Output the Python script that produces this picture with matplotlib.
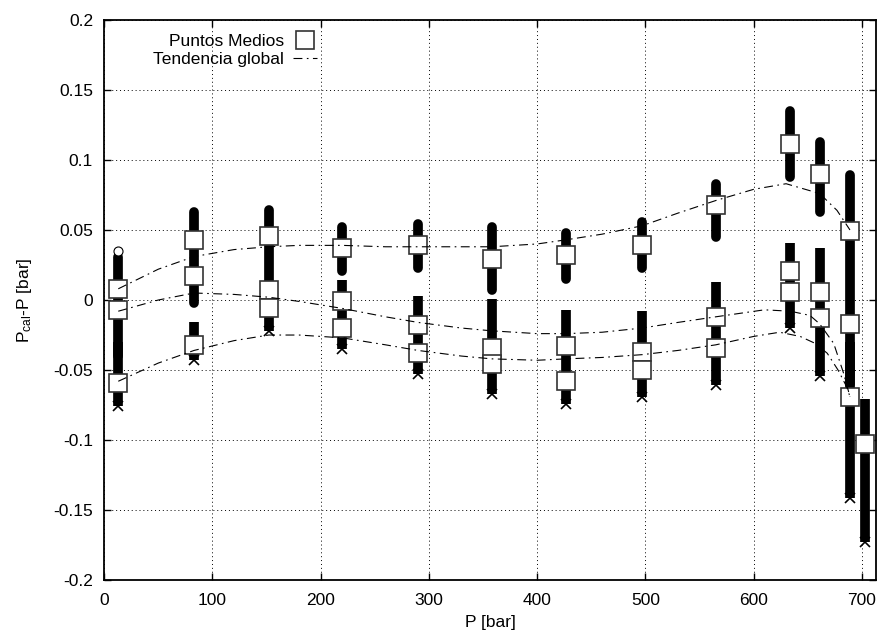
import matplotlib
matplotlib.use('Agg')
import matplotlib.pyplot as plt
from matplotlib.ticker import FuncFormatter

plt.rcParams['font.family'] = ['Liberation Sans', 'DejaVu Sans']
plt.rcParams['axes.unicode_minus'] = False
plt.rcParams['mathtext.fontset'] = 'custom'
plt.rcParams['mathtext.rm'] = 'Liberation Sans'
plt.rcParams['mathtext.it'] = 'Liberation Sans'

# presiones de cada columna de medidas
presion = [13, 83, 152, 220, 290, 358, 427, 497, 565, 634, 661, 689, 703]

# pilas de circulos (arriba / abajo)
circ_x = [13, 83, 152, 220, 290, 358, 427, 497, 565, 634, 661, 689]
circ_top = [0.031, 0.063, 0.064, 0.052, 0.054, 0.052, 0.048, 0.056, 0.083, 0.135, 0.113, 0.089]
circ_bot = [-0.040, -0.002, -0.004, 0.021, 0.023, 0.007, 0.015, 0.023, 0.045, 0.088, 0.063, -0.060]

# pilas de cruces (arriba / abajo)
cruz_x = [13, 83, 152, 220, 290, 358, 427, 497, 565, 634, 661, 689, 703]
cruz_top = [-0.030, -0.016, 0.000, 0.014, 0.003, 0.001, -0.007, -0.008, 0.013, 0.041, 0.037, -0.030, -0.071]
cruz_bot = [-0.076, -0.043, -0.022, -0.035, -0.053, -0.067, -0.074, -0.069, -0.061, -0.020, -0.054, -0.141, -0.173]

# puntos sueltos
suelto_x = [13]
suelto_y = [0.035]

# puntos medios
medio_x = [13, 13, 13, 83, 83, 83, 152, 152, 152, 220, 220, 220, 290, 290, 290,
           358, 358, 358, 427, 427, 427, 497, 497, 497, 565, 565, 565,
           634, 634, 634, 661, 661, 661, 689, 689, 689, 703]
medio_y = [0.008, -0.007, -0.059, 0.043, 0.017, -0.032, 0.046, 0.007, -0.006,
           0.037, -0.001, -0.020, 0.039, -0.018, -0.038, 0.029, -0.034, -0.046,
           0.032, -0.033, -0.058, 0.039, -0.037, -0.050, 0.068, -0.012, -0.034,
           0.111, 0.021, 0.006, 0.090, 0.006, -0.013, 0.049, -0.017, -0.069, -0.103]

# tendencias globales
t1_x = [13, 50, 83, 120, 152, 180, 220, 260, 290, 330, 358, 400, 427, 460, 497,
        530, 565, 600, 630, 661, 677, 689]
t1_y = [0.008, 0.022, 0.031, 0.036, 0.038, 0.039, 0.039, 0.038, 0.038, 0.038,
        0.038, 0.040, 0.043, 0.047, 0.053, 0.062, 0.071, 0.079, 0.083, 0.076,
        0.064, 0.050]
t2_x = [13, 50, 83, 120, 152, 180, 220, 260, 290, 330, 358, 400, 427, 460, 497,
        530, 565, 610, 634, 652, 661, 674, 683, 689]
t2_y = [-0.008, 0.000, 0.005, 0.004, 0.002, -0.001, -0.006, -0.012, -0.016,
        -0.020, -0.022, -0.024, -0.024, -0.023, -0.020, -0.016, -0.012, -0.007,
        -0.008, -0.011, -0.017, -0.031, -0.052, -0.069]
t3_x = [13, 50, 83, 120, 152, 180, 220, 260, 290, 330, 358, 400, 427, 460, 497,
        530, 565, 600, 624, 643, 657, 668, 678, 686, 689]
t3_y = [-0.058, -0.045, -0.036, -0.029, -0.025, -0.025, -0.027, -0.032, -0.036,
        -0.040, -0.042, -0.043, -0.042, -0.041, -0.039, -0.036, -0.032, -0.026,
        -0.023, -0.026, -0.031, -0.038, -0.050, -0.062, -0.069]

yticks = [0.2, 0.15, 0.1, 0.05, 0, -0.05, -0.1, -0.15, -0.2]
xticks = [0, 100, 200, 300, 400, 500, 600, 700]

fs = 12.5

fig = plt.figure(figsize=(8.83, 6.39), dpi=100)
ax = fig.add_axes([0.118, 0.092, 0.874, 0.877])

ax.set_xlim(0, 713)
ax.set_ylim(-0.2, 0.2)
ax.set_xticks(xticks)
ax.set_yticks(yticks)
ax.yaxis.set_major_formatter(FuncFormatter(lambda v, p: '%g' % round(v, 3)))
ax.tick_params(direction='in', top=True, right=True, length=5, width=1,
               labelsize=fs)
ax.tick_params(axis='y', pad=8)
ax.tick_params(axis='x', pad=9)
ax.grid(True, color='black', linestyle=(0, (1, 3)), linewidth=0.7)
ax.set_axisbelow(True)
for s in ax.spines.values():
    s.set_linewidth(1.3)

# columnas de circulos
for i in range(len(circ_x)):
    ax.plot([circ_x[i], circ_x[i]], [circ_top[i], circ_bot[i]], color='black',
            lw=7, solid_capstyle='round', zorder=2)
# columnas de cruces
for i in range(len(cruz_x)):
    ax.plot([cruz_x[i], cruz_x[i]], [cruz_top[i], cruz_bot[i]], color='black',
            lw=7, solid_capstyle='butt', zorder=2)
ax.plot(cruz_x, cruz_bot, 'x', color='black', ms=7, mew=1.2, zorder=2)
ax.plot(suelto_x, suelto_y, 'o', mfc='white', mec='black', ms=6.5, mew=0.8, zorder=2)

# puntos medios
ax.plot(medio_x, medio_y, 's', mfc='white', mec='#333333', ms=12.5, mew=1.2,
        linestyle='none', zorder=3, label='Puntos Medios')

# tendencias
dd = (0, (8, 4, 1.5, 4))
ax.plot(t1_x, t1_y, color='black', lw=0.8, linestyle=dd, zorder=4,
        label='Tendencia global')
ax.plot(t2_x, t2_y, color='black', lw=0.8, linestyle=dd, zorder=4)
ax.plot(t3_x, t3_y, color='black', lw=0.8, linestyle=dd, zorder=4)

ax.set_xlabel('P [bar]', fontsize=fs, labelpad=5)
ax.set_ylabel(r'P$_{\mathrm{cal}}$-P [bar]', fontsize=fs, labelpad=14)

ax.legend(loc='upper right', bbox_to_anchor=(326 / 883, 1 - 25 / 639),
          bbox_transform=fig.transFigure, frameon=False, markerfirst=False,
          fontsize=fs, handlelength=1.4, handletextpad=0.5, borderpad=0,
          labelspacing=0.18)

fig.savefig('out.png', dpi=100)
